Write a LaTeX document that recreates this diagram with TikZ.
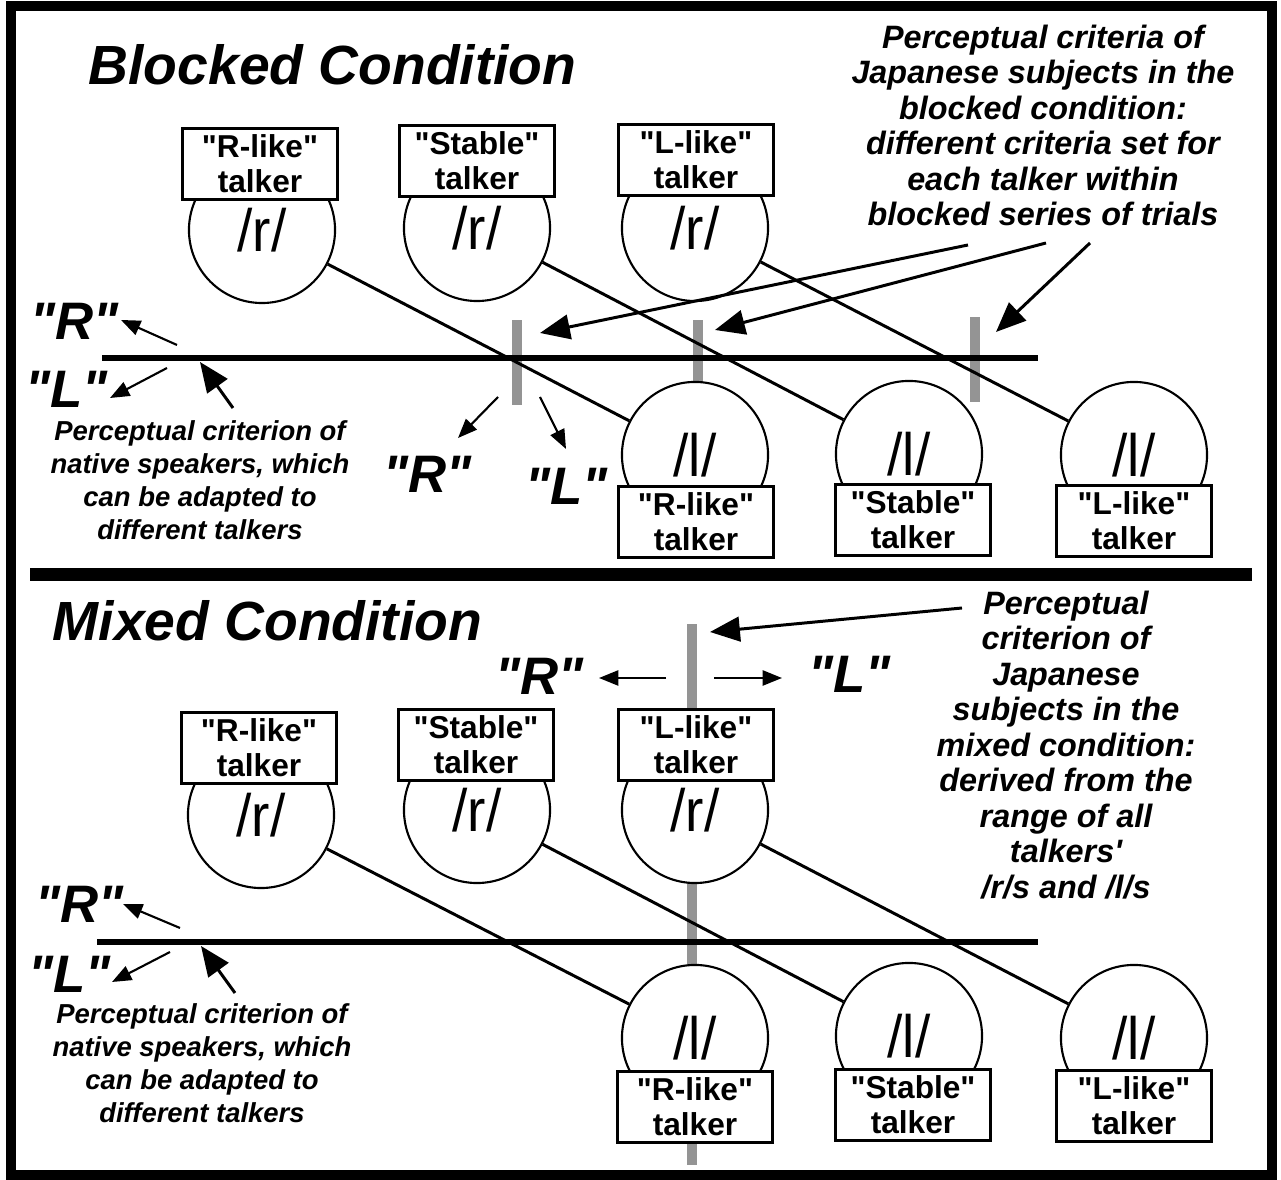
\documentclass[tikz,border=0pt]{standalone}
\usepackage{fontspec}
\setmainfont{Liberation Sans}[Ligatures=TeXOff]
\newfontfamily\phonfont[FakeStretch=0.92]{Liberation Sans}
\usepackage{tikz}
\usetikzlibrary{arrows.meta}

% straight quote marks
\newcommand{\dq}{\char34\relax}
\newcommand{\sq}{\char39\relax}

\tikzset{
  talker/.style={draw, fill=white, line width=0.6pt, minimum width=1.55cm, minimum height=0.71cm,
                 inner sep=0pt, align=center, font=\fontsize{9}{10}\selectfont\bfseries},
  sound/.style={circle, draw, fill=white, line width=0.6pt, minimum size=1.46cm, inner sep=0pt,
                font=\fontsize{17}{17}\phonfont},
  crit/.style={line width=1.7pt},
  critbar/.style={fill=black!42},
  link/.style={line width=0.85pt},
  note/.style={align=center, inner sep=0pt, anchor=north, font=\fontsize{9.2}{10.1}\selectfont\bfseries\itshape},
  native/.style={align=center, inner sep=0pt, anchor=north, font=\fontsize{7.8}{9.4}\selectfont\bfseries\itshape},
  resp/.style={anchor=base west, inner sep=0pt, font=\fontsize{15}{15}\selectfont\bfseries\itshape},
  condtitle/.style={anchor=base west, inner sep=0pt, font=\fontsize{15.7}{16}\selectfont\bfseries\itshape},
  bigarr/.style={-{Triangle[length=8.5pt,width=7pt]}, line width=0.85pt},
  smallarr/.style={-{Triangle[length=5.5pt,width=4.3pt]}, line width=0.6pt}
}

\begin{document}
\begin{tikzpicture}[x=0.01cm, y=-0.01cm]
\useasboundingbox (0,0) rectangle (1281,1180);
\draw[line width=3.1pt] (11,6) rectangle (1272,1175);
\draw[line width=3.7pt] (30,575) -- (1252,575);

% blocked condition
\node[condtitle] (blk) at (88,85) {Blocked Condition};

\fill[critbar] (512,320) rectangle (522,405);
\fill[critbar] (693,320) rectangle (703,390);
\fill[critbar] (970,317) rectangle (980,402);

\begin{scope}[every node/.style={sound}]
    \node (R1) at (262,230) {/r/};
    \node (R2) at (477,228) {/r/};
    \node (R3) at (695,228) {/r/};
    \node (L1) at (695,455) {/l/};
    \node (L2) at (909,454) {/l/};
    \node (L3) at (1134,455) {/l/};
\end{scope}

\begin{scope}[every node/.style={talker}]
    \node (TR1) at (260,164) {\dq R-like\dq\\talker};
    \node (TR2) at (477,161) {\dq Stable\dq\\talker};
    \node (TR3) at (696,160) {\dq L-like\dq\\talker};
    \node (TL1) at (696,522) {\dq R-like\dq\\talker};
    \node (TL2) at (913,520) {\dq Stable\dq\\talker};
    \node (TL3) at (1134,521) {\dq L-like\dq\\talker};
\end{scope}

\path [link] (R1) edge (L1);
\path [link] (R2) edge (L2);
\path [link] (R3) edge (L3);

\coordinate (CA) at (102,358);
\coordinate (CB) at (1038,358);
\draw[crit] (CA) -- (CB);

\node[resp] (RA) at (30,340) {\dq R\dq};
\node[resp] (LA) at (25,408) {\dq L\dq};
\coordinate (ra1) at (177,345); \coordinate (ra2) at (121,320);
\coordinate (la1) at (167,368); \coordinate (la2) at (110,398);
\coordinate (na1) at (233,408); \coordinate (na2) at (200,362);
\draw[smallarr] (ra1) -- (ra2);
\draw[smallarr] (la1) -- (la2);
\draw[bigarr] (na1) -- (na2);
\node[native] (NA) at (200,420) {Perceptual criterion of\\native speakers, which\\can be adapted to\\different talkers};

\node[resp] (RB) at (383,493) {\dq R\dq};
\node[resp] (LB) at (525,505) {\dq L\dq};
\coordinate (rb1) at (498,397); \coordinate (rb2) at (458,438);
\coordinate (lb1) at (540,397); \coordinate (lb2) at (566,449);
\draw[smallarr] (rb1) -- (rb2);
\draw[smallarr] (lb1) -- (lb2);

\node[note] (JB) at (1043,24) {Perceptual criteria of\\Japanese subjects in the\\blocked condition:\\different criteria set for\\each talker within\\blocked series of trials};
\coordinate (j1) at (968,245); \coordinate (b1) at (540,333);
\coordinate (j2) at (1046,243); \coordinate (b2) at (715,330);
\coordinate (j3) at (1090,243); \coordinate (b3) at (996,332);
\draw[bigarr] (j1) -- (b1);
\draw[bigarr] (j2) -- (b2);
\draw[bigarr] (j3) -- (b3);

% mixed condition
\node[condtitle] (mix) at (52,641) {Mixed Condition};

\fill[critbar] (687,624) rectangle (697,1165);

\begin{scope}[every node/.style={sound}]
    \node (r1) at (261,815) {/r/};
    \node (r2) at (477,810) {/r/};
    \node (r3) at (695,810) {/r/};
    \node (l1) at (695,1038) {/l/};
    \node (l2) at (909,1036) {/l/};
    \node (l3) at (1134,1038) {/l/};
\end{scope}

\begin{scope}[every node/.style={talker}]
    \node (tr1) at (259,748) {\dq R-like\dq\\talker};
    \node (tr2) at (476,745) {\dq Stable\dq\\talker};
    \node (tr3) at (696,745) {\dq L-like\dq\\talker};
    \node (tl1) at (695,1107) {\dq R-like\dq\\talker};
    \node (tl2) at (913,1105) {\dq Stable\dq\\talker};
    \node (tl3) at (1134,1106) {\dq L-like\dq\\talker};
\end{scope}

\path [link] (r1) edge (l1);
\path [link] (r2) edge (l2);
\path [link] (r3) edge (l3);

\coordinate (ca) at (97,942);
\coordinate (cb) at (1038,942);
\draw[crit] (ca) -- (cb);

\node[resp] (ra) at (35,923) {\dq R\dq};
\node[resp] (la) at (28,993) {\dq L\dq};
\coordinate (rc1) at (180,928); \coordinate (rc2) at (123,904);
\coordinate (lc1) at (170,952); \coordinate (lc2) at (112,982);
\coordinate (nc1) at (235,993); \coordinate (nc2) at (201,946);
\draw[smallarr] (rc1) -- (rc2);
\draw[smallarr] (lc1) -- (lc2);
\draw[bigarr] (nc1) -- (nc2);
\node[native] (na) at (202,1003) {Perceptual criterion of\\native speakers, which\\can be adapted to\\different talkers};

\node[resp] (rb) at (495,695) {\dq R\dq};
\node[resp] (lb) at (808,693) {\dq L\dq};
\coordinate (rd1) at (666,678); \coordinate (rd2) at (599,678);
\coordinate (ld1) at (714,678); \coordinate (ld2) at (782,678);
\draw[smallarr] (rd1) -- (rd2);
\draw[smallarr] (ld1) -- (ld2);

\node[note] (jm) at (1066,590) {Perceptual\\criterion of\\Japanese\\subjects in the\\mixed condition:\\derived from the\\range of all\\talkers\sq\\/r/s and /l/s};
\coordinate (jm1) at (962,608); \coordinate (bm1) at (710,632);
\draw[bigarr] (jm1) -- (bm1);
\end{tikzpicture}
\end{document}
